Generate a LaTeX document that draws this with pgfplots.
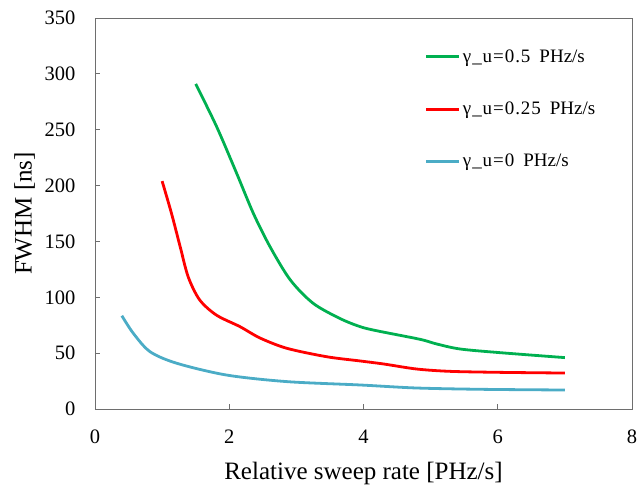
\documentclass[border=0pt]{standalone}
\usepackage{pgfplots}
\pgfplotsset{compat=1.18}
\usepackage{fontspec}
\setmainfont{Liberation Serif}
\usetikzlibrary{calc}
\definecolor{cgreen}{RGB}{0,176,80}
\definecolor{cred}{RGB}{255,0,0}
\definecolor{cblue}{RGB}{75,172,198}
\definecolor{axgray}{RGB}{110,110,110}
\newcommand{\legtxt}[1]{{\addfontfeatures{LetterSpace=5}γ\_u=#1}\hspace{9pt}PHz/s}
\begin{document}
\begin{tikzpicture}
\begin{axis}[
  scale only axis,
  width=537pt, height=391pt,
  xmin=0, xmax=8, ymin=0, ymax=350,
  xtick={0,2,...,8}, ytick={0,50,...,350},
  xtick pos=bottom, ytick pos=left,
  tick align=inside,
  major tick length=5pt,
  tick style={axgray, line width=0.8pt},
  axis line style={axgray, line width=0.8pt},
  /pgf/number format/assume math mode=true,
  ticklabel style={font=\fontsize{20.5}{22}\selectfont},
  xticklabel style={yshift=-17pt},
  yticklabel style={xshift=-16pt},
  xlabel={Relative sweep rate [PHz/s]},
  ylabel={FWHM [ns]},
  label style={font=\fontsize{25}{28}\selectfont},
  xlabel style={yshift=-12pt},
  ylabel style={yshift=3pt},
  legend style={draw=none, fill=none, at={(0.614,0.924)}, anchor=north west,
    font=\fontsize{19}{22}\selectfont, row sep=34pt, inner sep=0pt,
    /tikz/every even column/.append style={column sep=0pt}},
  legend cell align=left,
  legend image code/.code={\draw[#1, line width=3pt] (0pt,0pt) -- (33pt,0pt);},
  every axis plot/.append style={line width=2.8pt, smooth, tension=0.5, no marks},
]
\addplot[cgreen] coordinates {
(1.5,291) (1.81,253) (2.11,211) (2.36,175) (2.61,145) (2.91,115.5) (3.25,94.6) (3.65,81) (3.95,73.7) (4.2,70) (4.84,62.4) (5.09,58.2) (5.44,53.7) (6.04,50.4) (7,46)};
\addlegendentry{\legtxt{0.5}}
\addplot[cred] coordinates {
(1,204) (1.14,175) (1.27,145) (1.39,118) (1.56,97.6) (1.81,84) (2.16,73.7) (2.46,63.5) (2.86,54.3) (3.45,46.8) (3.95,43) (4.3,40.3) (4.79,35.8) (5.29,33.7) (6.04,32.8) (7,32.2)};
\addlegendentry{\legtxt{0.25}}
\addplot[cblue] coordinates {
(0.4,83.5) (0.57,67.8) (0.82,51.3) (1.22,40.9) (1.96,30.4) (2.86,24.5) (3.95,21.5) (4.79,18.8) (5.78,17.6) (7,17)};
\addlegendentry{\legtxt{0}}
\end{axis}
\path[use as bounding box] ($(current axis.south west)+(-95pt,-80pt)$) rectangle ($(current axis.north east)+(9pt,18pt)$);
\end{tikzpicture}
\end{document}
